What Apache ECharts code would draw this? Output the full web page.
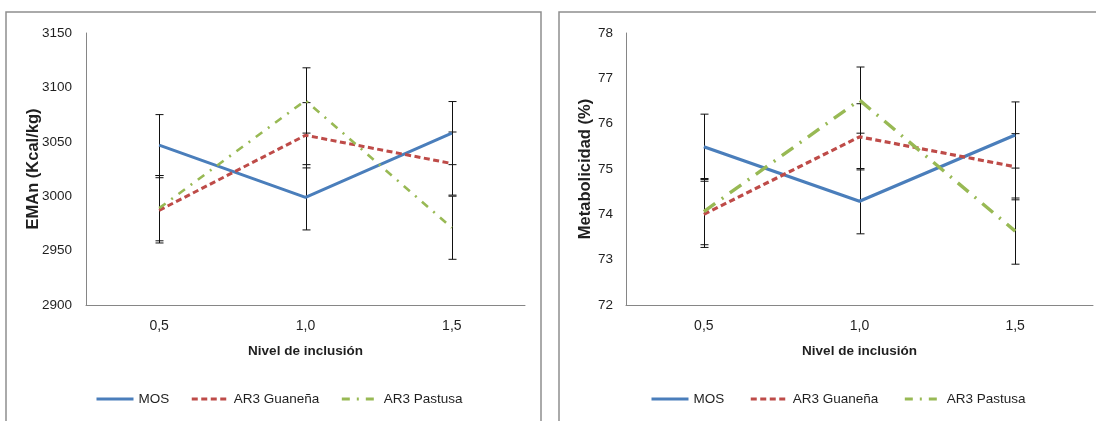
<!DOCTYPE html>
<html>
<head>
<meta charset="utf-8">
<script src="https://cdn.jsdelivr.net/npm/echarts@6/dist/echarts.min.js"></script>
<style>
html,body{margin:0;padding:0;background:#fff;}
#c{width:1096px;height:421px;}
</style>
</head>
<body>
<div id="c"></div>
<script>
// ---- data ----
const categories = ['0,5', '1,0', '1,5'];
const seriesNames = ['MOS', 'AR3 Guaneña', 'AR3 Pastusa'];

// Left panel: EMAn (Kcal/kg)
const emanMOS = [3047, 2999, 3058];
const emanMOSErr = [28, 30, 29];
const emanGuanena = [2987, 3056, 3030];
const emanGuanenaErr = [30, 30, 29];
const emanPastusa = [2989, 3088, 2971];
const emanPastusaErr = [30, 30, 29];
const emanTicks = [2900, 2950, 3000, 3050, 3100, 3150];

// Right panel: Metabolicidad (%)
const metMOS = [75.49, 74.29, 75.75];
const metMOSErr = [0.72, 0.72, 0.73];
const metGuanena = [74.00, 75.71, 75.05];
const metGuanenaErr = [0.73, 0.73, 0.73];
const metPastusa = [74.06, 76.52, 73.63];
const metPastusaErr = [0.73, 0.73, 0.73];
const metTicks = [72, 73, 74, 75, 76, 77, 78];

// ---- styles ----
const SANS = '"Liberation Sans", Arial, sans-serif';
const TXT = '#1f1f1f';
const AXIS = '#868686';
const colors = ['#4a7ebb', '#be4b48', '#98b954'];

function errData(vals, errs) {
  return vals.map((v, i) => [i, v - errs[i], v + errs[i]]);
}
function errRender(params, api) {
  const x = api.value(0);
  const lo = api.coord([x, api.value(1)]);
  const hi = api.coord([x, api.value(2)]);
  const cx = Math.round(lo[0]) + 0.5;
  const w = 4;
  const st = { stroke: '#111', lineWidth: 1 };
  return {
    type: 'group',
    children: [
      { type: 'line', shape: { x1: cx, y1: hi[1], x2: cx, y2: lo[1] }, style: st },
      { type: 'line', shape: { x1: cx - w, y1: hi[1], x2: cx + w, y2: hi[1] }, style: st },
      { type: 'line', shape: { x1: cx - w, y1: lo[1], x2: cx + w, y2: lo[1] }, style: st }
    ]
  };
}

function lineSeries(name, data, idx, style) {
  return {
    type: 'line', name: name, data: data,
    xAxisIndex: idx, yAxisIndex: idx,
    symbol: 'none', showSymbol: false, z: 3,
    lineStyle: style, itemStyle: { color: style.color },
    emphasis: { disabled: true }, animation: false
  };
}
function errSeries(vals, errs, idx) {
  return {
    type: 'custom', renderItem: errRender, data: errData(vals, errs),
    xAxisIndex: idx, yAxisIndex: idx, encode: { x: 0, y: [1, 2] },
    z: 2, animation: false, silent: true
  };
}

const blueL = { color: colors[0], width: 3, type: 'solid' };
const redL = { color: colors[1], width: 3, type: [6, 3.5] };
const greenL = { color: colors[2], width: 2.6, type: [8, 7, 2, 7] };
const blueR = { color: colors[0], width: 3.2, type: 'solid' };
const redR = { color: colors[1], width: 3.2, type: [6, 3.5] };
const greenR = { color: colors[2], width: 3.4, type: [14, 8, 2, 8] };

function xAxis(idx) {
  return {
    type: 'category', gridIndex: idx, data: categories, boundaryGap: true,
    axisLine: { lineStyle: { color: AXIS, width: 1 } },
    axisTick: { show: false },
    axisLabel: { color: TXT, fontFamily: SANS, fontSize: 14, margin: 14 },
    name: 'Nivel de inclusión', nameLocation: 'middle', nameGap: 39,
    nameTextStyle: { color: TXT, fontFamily: SANS, fontSize: 13.5, fontWeight: 'bold' }
  };
}
function yAxis(idx, min, max, interval, name, gap, margin) {
  return {
    type: 'value', gridIndex: idx, min: min, max: max, interval: interval,
    axisLine: { show: true, lineStyle: { color: AXIS, width: 1 } },
    axisTick: { show: false }, splitLine: { show: false },
    axisLabel: { color: TXT, fontFamily: SANS, fontSize: 13.5, margin: margin, formatter: v => String(v) },
    name: name, nameLocation: 'middle', nameGap: gap, nameRotate: 90,
    nameMoveOverlap: false,
    nameTextStyle: { color: TXT, fontFamily: SANS, fontSize: 16.5, fontWeight: 'bold' }
  };
}

const legendBase = {
  data: seriesNames, top: 392, itemWidth: 37, itemHeight: 14, orient: 'horizontal',
  padding: 0,
  textStyle: { color: TXT, fontFamily: SANS, fontSize: 13.5 },
  itemStyle: { opacity: 0 },
  lineStyle: { width: 3 },
  selectedMode: false
};

const chart = echarts.init(document.getElementById('c'), null, { renderer: 'canvas' });
chart.setOption({
  backgroundColor: '#fff',
  animation: false,
  graphic: [
    { type: 'rect', shape: { x: 6, y: 12, width: 535, height: 430 }, style: { fill: 'none', stroke: '#8f8f8f', lineWidth: 1.5 }, silent: true },
    { type: 'rect', shape: { x: 559, y: 12, width: 560, height: 430 }, style: { fill: 'none', stroke: '#8f8f8f', lineWidth: 1.5 }, silent: true }
  ],
  grid: [
    { left: 86, top: 33, width: 439, height: 272, containLabel: false },
    { left: 626, top: 33, width: 467, height: 272, containLabel: false }
  ],
  legend: [
    Object.assign({}, legendBase, { left: 95, itemGap: 21 }),
    Object.assign({}, legendBase, { left: 650, itemGap: 25 })
  ],
  xAxis: [xAxis(0), xAxis(1)],
  yAxis: [
    yAxis(0, emanTicks[0], emanTicks[emanTicks.length - 1], emanTicks[1] - emanTicks[0], 'EMAn (Kcal/kg)', 44, 14),
    yAxis(1, metTicks[0], metTicks[metTicks.length - 1], metTicks[1] - metTicks[0], 'Metabolicidad (%)', 32, 13)
  ],
  series: [
    errSeries(emanMOS, emanMOSErr, 0),
    errSeries(emanGuanena, emanGuanenaErr, 0),
    errSeries(emanPastusa, emanPastusaErr, 0),
    lineSeries(seriesNames[0], emanMOS, 0, blueL),
    lineSeries(seriesNames[1], emanGuanena, 0, redL),
    lineSeries(seriesNames[2], emanPastusa, 0, greenL),
    errSeries(metMOS, metMOSErr, 1),
    errSeries(metGuanena, metGuanenaErr, 1),
    errSeries(metPastusa, metPastusaErr, 1),
    lineSeries(seriesNames[0], metMOS, 1, blueR),
    lineSeries(seriesNames[1], metGuanena, 1, redR),
    lineSeries(seriesNames[2], metPastusa, 1, greenR)
  ]
});
</script>
</body>
</html>
